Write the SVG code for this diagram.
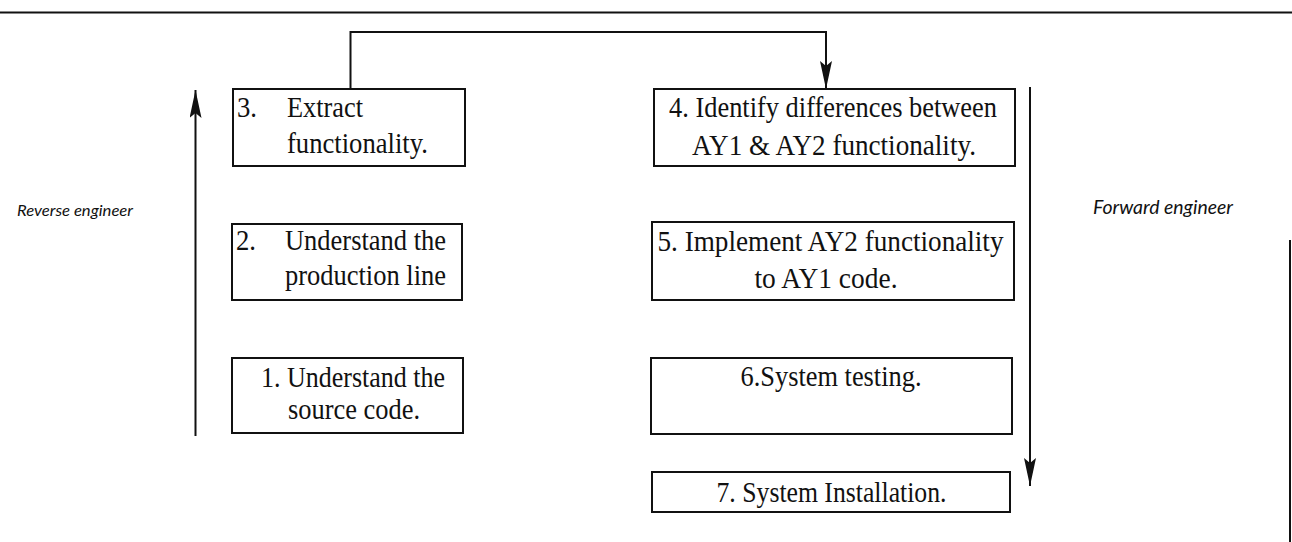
<svg xmlns="http://www.w3.org/2000/svg" width="1292" height="542" viewBox="0 0 1292 542">
<style>
.box{fill:#fff;stroke:#111;stroke-width:2}
.t{font-family:"Liberation Serif","Times New Roman",serif;font-size:29px;fill:#111}
.c{text-anchor:middle}
.side{font-family:Lato,"Open Sans",sans-serif;font-style:italic;fill:#111}
.ln{fill:none;stroke:#111;stroke-width:2}
</style>
<defs>
<marker id="ah" markerUnits="userSpaceOnUse" markerWidth="30" markerHeight="14" refX="28" refY="6" orient="auto">
<path d="M0,0 L28,6 L0,12 L5,6 Z" fill="#111"/>
</marker>
</defs>
<g id="frame">
<line class="ln" x1="0" y1="12.5" x2="1292" y2="12.5" stroke-width="2.5"/>
<line class="ln" x1="1290" y1="240" x2="1290" y2="542"/>
</g>
<g id="labels">
<text class="side" x="17" y="216" font-size="16" textLength="116" lengthAdjust="spacingAndGlyphs">Reverse engineer</text>
<text class="side" x="1093" y="214" font-size="19" textLength="140" lengthAdjust="spacingAndGlyphs">Forward engineer</text>
</g>
<g id="connectors">
<polyline class="ln" points="350.5,89 350.5,32 826,32 826,89" marker-end="url(#ah)"/>
<line class="ln" x1="195.5" y1="436" x2="195.5" y2="90" marker-end="url(#ah)"/>
<line class="ln" x1="1030" y1="87" x2="1030" y2="486" marker-end="url(#ah)"/>
</g>
<g id="n3">
<rect class="box" x="233" y="89" width="232" height="77"/>
<text class="t" x="237" y="117" textLength="20" lengthAdjust="spacingAndGlyphs">3.</text>
<text class="t" x="287" y="117" textLength="76" lengthAdjust="spacingAndGlyphs">Extract</text>
<text class="t" x="287" y="153" textLength="141" lengthAdjust="spacingAndGlyphs">functionality.</text>
</g>
<g id="n2">
<rect class="box" x="232" y="224" width="230" height="76"/>
<text class="t" x="236" y="250" textLength="20" lengthAdjust="spacingAndGlyphs">2.</text>
<text class="t" x="285" y="250" textLength="161" lengthAdjust="spacingAndGlyphs">Understand the</text>
<text class="t" x="285" y="285" textLength="161" lengthAdjust="spacingAndGlyphs">production line</text>
</g>
<g id="n1">
<rect class="box" x="232" y="358" width="231" height="75"/>
<text class="t c" x="353" y="387" textLength="184" lengthAdjust="spacingAndGlyphs">1. Understand the</text>
<text class="t c" x="354" y="419" textLength="132" lengthAdjust="spacingAndGlyphs">source code.</text>
</g>
<g id="n4">
<rect class="box" x="654" y="89" width="361" height="77"/>
<text class="t c" x="833" y="117" textLength="328" lengthAdjust="spacingAndGlyphs">4. Identify differences between</text>
<text class="t c" x="834" y="155" textLength="284" lengthAdjust="spacingAndGlyphs">AY1 &amp; AY2 functionality.</text>
</g>
<g id="n5">
<rect class="box" x="652" y="222" width="362" height="78"/>
<text class="t c" x="830.5" y="251" textLength="346" lengthAdjust="spacingAndGlyphs">5. Implement AY2 functionality</text>
<text class="t c" x="826" y="288" textLength="143" lengthAdjust="spacingAndGlyphs">to AY1 code.</text>
</g>
<g id="n6">
<rect class="box" x="651" y="358" width="361" height="76"/>
<text class="t c" x="831" y="386" textLength="181" lengthAdjust="spacingAndGlyphs">6.System testing.</text>
</g>
<g id="n7">
<rect class="box" x="652" y="472" width="358" height="40"/>
<text class="t c" x="831.5" y="502" textLength="230" lengthAdjust="spacingAndGlyphs">7. System Installation.</text>
</g>
</svg>
